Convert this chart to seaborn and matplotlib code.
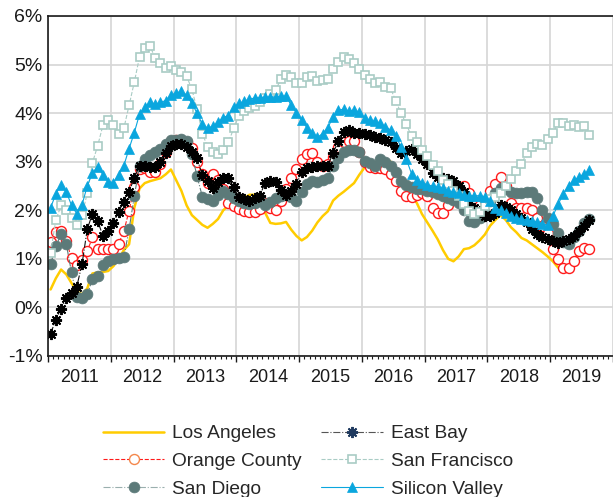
import numpy as np
import seaborn as sns
import matplotlib.pyplot as plt
from matplotlib.ticker import MultipleLocator, FuncFormatter, NullFormatter

# Monthly year-over-year change (%), Jan 2011 - Aug 2019
SERIES_NAMES = ["Los Angeles", "Orange County", "San Diego",
                "East Bay", "San Francisco", "Silicon Valley"]

los_angeles = [
    0.37, 0.60, 0.78, 0.68, 0.50, 0.33, 0.27, 0.39, 0.70, 0.72,
    0.73, 0.75, 0.85, 1.00, 1.18, 1.30, 2.05, 2.45, 2.56, 2.60,
    2.63, 2.66, 2.74, 2.84, 2.62, 2.40, 2.10, 1.90, 1.80, 1.70,
    1.64, 1.72, 1.82, 2.00, 2.10, 2.16, 2.20, 2.25, 2.32, 2.32,
    2.20, 1.95, 1.74, 1.72, 1.73, 1.76, 1.60, 1.47, 1.38, 1.45,
    1.58, 1.75, 1.88, 1.98, 2.20, 2.30, 2.38, 2.47, 2.56, 2.73,
    2.88, 2.95, 2.98, 3.04, 3.06, 3.00, 2.88, 2.65, 2.48, 2.32,
    2.15, 1.92, 1.75, 1.58, 1.40, 1.18, 1.00, 0.95, 1.05, 1.20,
    1.22, 1.28, 1.38, 1.50, 1.68, 1.80, 1.90, 1.80, 1.65, 1.55,
    1.43, 1.38, 1.30, 1.22, 1.14, 1.05, 0.95, 0.82, 0.80, 0.85,
    0.98, 1.12]

orange_county = [
    1.35, 1.55, 1.58, 1.37, 1.01, 0.88, 0.97, 1.16, 1.44, 1.21,
    1.21, 1.21, 1.21, 1.31, 1.57, 1.99, 2.48, 2.85, 2.87, 2.78,
    2.78, 2.95, 3.20, 3.42, 3.45, 3.45, 3.40, 3.28, 3.00, 2.75,
    2.57, 2.75, 2.62, 2.44, 2.15, 2.09, 2.03, 1.99, 1.96, 1.96,
    2.03, 2.15, 2.05, 2.00, 2.20, 2.44, 2.67, 2.86, 3.06, 3.15,
    3.17, 3.00, 2.92, 2.95, 3.10, 3.30, 3.40, 3.42, 3.42, 3.20,
    3.00, 2.90, 2.87, 2.87, 2.85, 2.75, 2.60, 2.40, 2.30, 2.27,
    2.32, 2.35, 2.30, 2.05, 1.95, 1.95, 2.10, 2.30, 2.45, 2.50,
    2.35, 2.20, 2.10, 2.20, 2.40, 2.55, 2.68, 2.50, 2.15, 2.05,
    2.05, 2.05, 2.00, 1.85, 1.68, 1.53, 1.20, 1.00, 0.81, 0.81,
    0.95, 1.16, 1.22, 1.20]

san_diego = [
    0.89, 1.26, 1.51, 1.30, 0.72, 0.21, 0.19, 0.27, 0.58, 0.64,
    0.87, 0.95, 0.99, 1.01, 1.03, 1.61, 2.29, 2.92, 3.06, 3.13,
    3.19, 3.27, 3.37, 3.44, 3.44, 3.47, 3.42, 3.15, 2.70, 2.28,
    2.24, 2.20, 2.32, 2.40, 2.34, 2.25, 2.20, 2.15, 2.13, 2.15,
    2.20, 2.10, 2.18, 2.26, 2.30, 2.34, 2.28, 2.20, 2.38, 2.55,
    2.61, 2.58, 2.63, 2.67, 2.92, 3.08, 3.19, 3.25, 3.25, 3.19,
    3.02, 2.97, 2.92, 3.05, 3.00, 2.92, 2.78, 2.60, 2.52, 2.47,
    2.44, 2.43, 2.40, 2.37, 2.34, 2.30, 2.26, 2.22, 2.15, 2.00,
    1.78, 1.76, 1.85, 1.95, 2.20, 2.35, 2.46, 2.43, 2.38, 2.36,
    2.36, 2.37, 2.38, 2.25, 2.00, 1.85, 1.72, 1.53, 1.35, 1.30,
    1.45, 1.58, 1.74, 1.82]

east_bay = [
    -0.54, -0.25, -0.04, 0.20, 0.29, 0.43, 0.89, 1.61, 1.93, 1.78,
    1.47, 1.58, 1.74, 1.97, 2.17, 2.38, 2.67, 2.92, 2.92, 2.90,
    2.90, 3.00, 3.17, 3.33, 3.37, 3.36, 3.30, 3.20, 3.07, 2.72,
    2.61, 2.46, 2.58, 2.67, 2.66, 2.47, 2.28, 2.24, 2.20, 2.26,
    2.30, 2.57, 2.61, 2.58, 2.42, 2.32, 2.40, 2.55, 2.78, 2.87,
    2.90, 2.92, 2.92, 2.92, 3.18, 3.42, 3.62, 3.66, 3.60, 3.60,
    3.58, 3.55, 3.50, 3.49, 3.45, 3.40, 3.28, 3.18, 3.22, 3.26,
    3.15, 3.05, 2.95, 2.76, 2.68, 2.66, 2.65, 2.60, 2.50, 2.38,
    2.12, 2.04, 1.98, 1.88, 1.88, 1.95, 2.10, 2.07, 2.00, 1.93,
    1.85, 1.76, 1.62, 1.52, 1.46, 1.40, 1.37, 1.33, 1.36, 1.41,
    1.48, 1.58, 1.68, 1.80]

san_francisco = [
    1.13, 1.80, 2.10, 2.00, 1.85, 1.70, 1.90, 2.35, 2.98, 3.33,
    3.75, 3.85, 3.75, 3.58, 3.69, 4.16, 4.64, 5.16, 5.34, 5.38,
    5.13, 5.03, 4.93, 4.97, 4.89, 4.84, 4.76, 4.49, 4.08, 3.58,
    3.31, 3.21, 3.15, 3.25, 3.40, 3.69, 3.95, 4.04, 4.10, 4.14,
    4.22, 4.31, 4.39, 4.47, 4.70, 4.78, 4.74, 4.62, 4.62, 4.74,
    4.76, 4.66, 4.68, 4.70, 4.91, 5.05, 5.16, 5.11, 5.03, 4.91,
    4.78, 4.70, 4.62, 4.64, 4.53, 4.51, 4.24, 4.00, 3.77, 3.52,
    3.40, 3.25, 3.11, 2.94, 2.80, 2.63, 2.55, 2.40, 2.30, 2.13,
    1.98, 1.93, 1.97, 2.08, 2.24, 2.28, 2.35, 2.50, 2.65, 2.80,
    2.96, 3.17, 3.31, 3.37, 3.35, 3.46, 3.60, 3.79, 3.79, 3.73,
    3.75, 3.71, 3.73, 3.54]

silicon_valley = [
    2.05, 2.34, 2.53, 2.38, 2.10, 1.93, 2.11, 2.50, 2.77, 2.90,
    2.73, 2.59, 2.57, 2.73, 2.92, 3.27, 3.60, 3.98, 4.12, 4.22,
    4.18, 4.22, 4.26, 4.37, 4.41, 4.45, 4.37, 4.20, 4.00, 3.77,
    3.69, 3.73, 3.81, 3.91, 3.95, 4.12, 4.20, 4.24, 4.29, 4.31,
    4.31, 4.33, 4.33, 4.33, 4.35, 4.35, 4.16, 4.00, 3.85, 3.70,
    3.60, 3.50, 3.58, 3.70, 3.93, 4.06, 4.08, 4.04, 4.06, 4.02,
    3.89, 3.85, 3.83, 3.79, 3.72, 3.65, 3.52, 3.30, 3.05, 2.75,
    2.62, 2.57, 2.52, 2.50, 2.48, 2.45, 2.40, 2.37, 2.35, 2.32,
    2.30, 2.30, 2.30, 2.28, 2.20, 2.05, 2.00, 1.95, 1.88, 1.84,
    1.82, 1.80, 1.78, 1.76, 1.72, 1.70, 1.88, 2.12, 2.34, 2.50,
    2.62, 2.68, 2.75, 2.82]

# decimal-year position of each monthly point (mid month)
month_index = np.arange(len(orange_county))
dates = 2011 + (month_index + 0.5) / 12

# line / marker style per series, drawn in this order
STYLES = {
    "Los Angeles": dict(color="#FFCC00", linestyle="-", linewidth=1.8),
    "Orange County": dict(color="#FF1A1A", linestyle="--", linewidth=0.8, marker="o",
                          markersize=7.2, markerfacecolor="white",
                          markeredgecolor="#FF1A1A", markeredgewidth=1.0),
    "San Diego": dict(color="#5C7A79", linestyle="-.", linewidth=0.8, marker="o",
                      markersize=7.8, markerfacecolor="#5C7A79",
                      markeredgecolor="#5C7A79", markeredgewidth=0.5),
    "East Bay": dict(color="#111111", linestyle="-.", linewidth=0.8, marker=(8, 2, 0),
                     markersize=8, markeredgecolor="black", markeredgewidth=1.4),
    "San Francisco": dict(color="#A9CCC5", linestyle="--", linewidth=0.8, marker="s",
                          markersize=6.3, markerfacecolor="white",
                          markeredgecolor="#A9CCC5", markeredgewidth=1.2),
    "Silicon Valley": dict(color="#0AA6DE", linestyle="-", linewidth=0.8, marker="^",
                           markersize=6.6, markerfacecolor="#0AA6DE",
                           markeredgecolor="#0AA6DE", markeredgewidth=0.5),
}
VALUES = {"Los Angeles": los_angeles, "Orange County": orange_county,
          "San Diego": san_diego, "East Bay": east_bay,
          "San Francisco": san_francisco, "Silicon Valley": silicon_valley}


def pct(v, pos):
    return f"{int(round(v))}%"


def year_label(v, pos):
    # label each year at its middle (the July minor tick)
    if abs((v % 1) - 0.5) < 1e-6:
        return str(int(v))
    return ""


sns.set_theme(style="white")
plt.rcParams['font.family'] = ['Liberation Sans', 'DejaVu Sans']

fig = plt.figure(figsize=(6.13, 4.97), dpi=100)
ax = fig.add_axes([48 / 613, 1 - 356 / 497, 1 - 48 / 613, (356 - 16) / 497])

for name in SERIES_NAMES:
    vals = VALUES[name]
    sns.lineplot(x=dates[:len(vals)], y=vals, ax=ax, label=name, **STYLES[name])

# axes limits and ticks
ax.set_xlim(2011, 2020)
ax.set_ylim(-1, 6)
ax.yaxis.set_major_locator(MultipleLocator(1))
ax.yaxis.set_major_formatter(FuncFormatter(pct))
ax.xaxis.set_major_locator(MultipleLocator(1))
ax.xaxis.set_major_formatter(NullFormatter())
ax.xaxis.set_minor_locator(MultipleLocator(1 / 12))
ax.xaxis.set_minor_formatter(FuncFormatter(year_label))
ax.set_xlabel('')
ax.set_ylabel('')

ax.grid(True, which='major', color='#D6D6D6', linewidth=1.2)
ax.set_axisbelow(True)
for side in ['left', 'top', 'bottom']:
    ax.spines[side].set_color('#1a1a1a')
    ax.spines[side].set_linewidth(1.2)
ax.spines['right'].set_visible(False)

ax.tick_params(axis='y', which='major', left=True, length=0, pad=4.0,
               labelsize=14, labelcolor='#1a1a1a')
ax.tick_params(axis='x', which='major', bottom=True, direction='out', length=4.5,
               width=1.0, color='#1a1a1a')
ax.tick_params(axis='x', which='minor', bottom=True, direction='out', length=2.2,
               width=0.8, color='#1a1a1a', pad=7.5, labelsize=13,
               labelcolor='#1a1a1a')

# figure legend below the axes, two columns
handles, labels = ax.get_legend_handles_labels()
if ax.get_legend() is not None:
    ax.get_legend().remove()
leg = fig.legend(handles, labels, ncol=2, loc='upper left',
                 bbox_to_anchor=(103 / 613, 1 - 425 / 497), frameon=False,
                 fontsize=13.8, handlelength=3.2, handletextpad=0.42,
                 columnspacing=1.0, labelspacing=0.53, borderpad=0, borderaxespad=0)
# legend keys are drawn a little differently from the plot markers
leg.legend_handles[1].set_markeredgecolor("#F4874B")
leg.legend_handles[2].set_color("#9AAFAE")
leg.legend_handles[2].set_markerfacecolor("#5C7A79")
leg.legend_handles[2].set_markeredgecolor("#5C7A79")
leg.legend_handles[3].set_color("#555555")
leg.legend_handles[3].set_markeredgecolor("#1F3A5F")

fig.savefig("out.png", dpi=100)
